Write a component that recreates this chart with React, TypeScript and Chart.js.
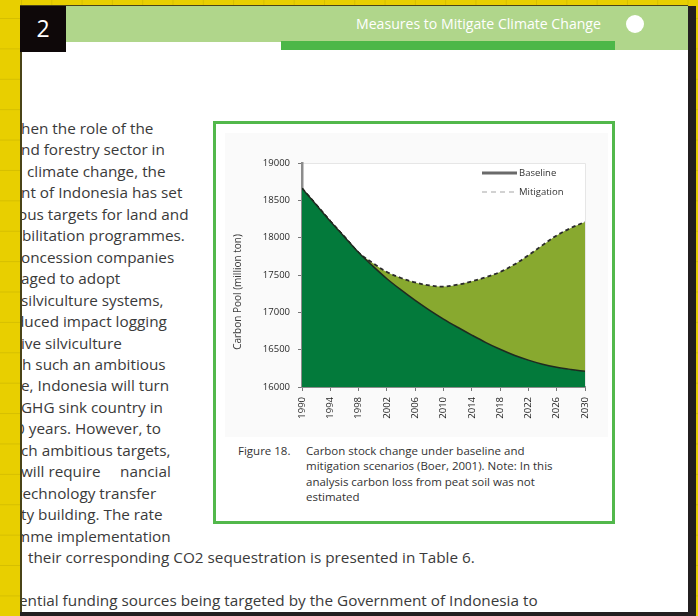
import React, { useEffect, useRef } from "react";
import { Chart, registerables } from "chart.js";

Chart.register(...registerables);

// ---------- data ----------
const years = [1990, 1992, 1994, 1996, 1998, 2000, 2002, 2004, 2006, 2008, 2010, 2012, 2014, 2016, 2018, 2020, 2022, 2024, 2026, 2028, 2030];
const baseline = [18660, 18440, 18220, 18010, 17800, 17620, 17450, 17300, 17160, 17030, 16910, 16800, 16695, 16595, 16505, 16425, 16360, 16305, 16265, 16235, 16210];
const mitigation = [18660, 18440, 18220, 18010, 17800, 17660, 17540, 17460, 17400, 17360, 17345, 17370, 17415, 17470, 17540, 17640, 17765, 17900, 18030, 18130, 18210];
const baselineTrace = [18660, 18440, 18220, 18010, 17790, 17600, 17420, 17250, 17090, 16950, 16830, 16715, 16605, 16505, 16420, 16350, 16295, 16255, 16230, 16208, 16195];
const xTickYears = [1990, 1994, 1998, 2002, 2006, 2010, 2014, 2018, 2022, 2026, 2030];
const yTickValues = [16000, 16500, 17000, 17500, 18000, 18500, 19000];
const legendLabels = ["Baseline", "Mitigation"];
const yAxisTitle = "Carbon Pool (million ton)";

const headerTitle = "Measures to Mitigate Climate Change";
const chapterNumber = "2";
const captionLabel = "Figure 18.";
const captionLines = [
  "Carbon stock change under baseline and",
  "mitigation scenarios (Boer, 2001).  Note: In this",
  "analysis carbon loss from peat soil was not",
  "estimated",
];
const bodyLines: { t: string; dx: number; row: number }[] = [
  { t: "hen the role of the", dx: -1, row: 0 },
  { t: "nd forestry sector in", dx: -1, row: 1 },
  { t: "climate change, the", dx: 5, row: 2 },
  { t: "nt of Indonesia has set", dx: -1, row: 3 },
  { t: "ous targets for land and", dx: -4, row: 4 },
  { t: "bilitation programmes.", dx: 0, row: 5 },
  { t: "oncession companies", dx: -1, row: 6 },
  { t: "aged to adopt", dx: -1, row: 7 },
  { t: "silviculture systems,", dx: -1, row: 8 },
  { t: "duced impact logging", dx: -7, row: 9 },
  { t: "ive silviculture", dx: -1, row: 10 },
  { t: "h such an ambitious", dx: 0, row: 11 },
  { t: "e, Indonesia will turn", dx: -1, row: 12 },
  { t: "GHG sink country in", dx: -1, row: 13 },
  { t: "0 years. However, to", dx: -6, row: 14 },
  { t: "ch ambitious targets,", dx: -1, row: 15 },
  { t: "will require", dx: -1, row: 16 },
  { t: "nancial", dx: 98, row: 16 },
  { t: "technology transfer", dx: -5, row: 17 },
  { t: "ty building. The rate", dx: -1, row: 18 },
  { t: "mme implementation", dx: -6, row: 19 },
  { t: "their corresponding CO2 sequestration is presented in Table 6.", dx: 6, row: 20 },
  { t: "ential funding sources being targeted by the Government of Indonesia to", dx: -3, row: 22 },
];

// ---------- layout constants ----------
const CANVAS_LEFT = 225;
const CANVAS_TOP = 133;
const CANVAS_W = 383;
const CANVAS_H = 304;
const TEXT_FONT = "'Open Sans', 'Noto Sans', sans-serif";
const CHART_FONT = "'Open Sans', 'Noto Sans', sans-serif";

const chartDecor = {
  id: "chartDecor",
  beforeDraw(chart: any) {
    const { ctx, chartArea: ca, width, height } = chart;
    ctx.save();
    ctx.fillStyle = "#fafafa";
    ctx.fillRect(0, 0, width, height);
    ctx.fillStyle = "#ffffff";
    ctx.fillRect(ca.left, ca.top, ca.right - ca.left, ca.bottom - ca.top);
    ctx.strokeStyle = "#e6e6e6";
    ctx.lineWidth = 1;
    ctx.beginPath();
    ctx.moveTo(ca.left, ca.top + 0.5);
    ctx.lineTo(ca.right + 0.5, ca.top + 0.5);
    ctx.lineTo(ca.right + 0.5, ca.bottom);
    ctx.stroke();
    ctx.restore();
  },
  afterDraw(chart: any) {
    const { ctx, chartArea: ca } = chart;
    ctx.save();
    // legend
    const lx = ca.left + 180;
    const tx = ca.left + 217;
    const y1 = ca.top + 10;
    const y2 = ca.top + 29;
    ctx.lineWidth = 3;
    ctx.strokeStyle = "#6a6a6a";
    ctx.beginPath();
    ctx.moveTo(lx, y1);
    ctx.lineTo(lx + 35, y1);
    ctx.stroke();
    ctx.lineWidth = 2;
    ctx.strokeStyle = "#d2d2d2";
    ctx.setLineDash([5, 4]);
    ctx.beginPath();
    ctx.moveTo(lx, y2);
    ctx.lineTo(lx + 35, y2);
    ctx.stroke();
    ctx.setLineDash([]);
    ctx.fillStyle = "#333";
    ctx.font = `9.5px ${CHART_FONT}`;
    ctx.textAlign = "left";
    ctx.textBaseline = "middle";
    ctx.fillText(legendLabels[0], tx, y1);
    ctx.fillText(legendLabels[1], tx, y2);
    // y axis title
    ctx.translate(13, 159);
    ctx.rotate(-Math.PI / 2);
    ctx.textAlign = "center";
    ctx.font = `10px ${CHART_FONT}`;
    ctx.fillStyle = "#3a3a3a";
    ctx.fillText(yAxisTitle, 0, 0);
    ctx.restore();
  },
};

function CarbonChart() {
  const ref = useRef<HTMLCanvasElement | null>(null);
  useEffect(() => {
    if (!ref.current) return;
    const chart = new Chart(ref.current, {
      type: "line",
      data: {
        datasets: [
          {
            label: legendLabels[0],
            data: years.map((x, i) => ({ x, y: baseline[i] })),
            borderColor: "#1f2a1f",
            borderWidth: 1.5,
            backgroundColor: "#037a3b",
            fill: "start",
            tension: 0.35,
            pointRadius: 0,
          },
          {
            label: legendLabels[1],
            data: years.map((x, i) => ({ x, y: mitigation[i] })),
            borderColor: "#2b2b2b",
            borderWidth: 1.8,
            borderDash: [4, 3],
            backgroundColor: "#88a92f",
            fill: 0,
            tension: 0.35,
            pointRadius: 0,
          },
          {
            label: "trace",
            data: years.map((x, i) => ({ x, y: baselineTrace[i] })),
            borderColor: "#111",
            borderWidth: 1.8,
            borderDash: [4, 3],
            fill: false,
            tension: 0.35,
            pointRadius: 0,
          },
        ],
      },
      options: {
        animation: false,
        responsive: false,
        devicePixelRatio: 1,
        layout: { padding: { top: 30, right: 23, left: 0, bottom: 0 } },
        plugins: { legend: { display: false }, tooltip: { enabled: false } },
        scales: {
          x: {
            type: "linear",
            min: 1990,
            max: 2030,
            afterBuildTicks: (s: any) => {
              s.ticks = xTickYears.map((v) => ({ value: v }));
            },
            afterFit: (s: any) => {
              s.height = 50;
            },
            ticks: {
              autoSkip: false,
              minRotation: 90,
              maxRotation: 90,
              padding: 6,
              color: "#1e1e1e",
              font: { family: CHART_FONT, size: 9.5 },
              callback: (v: any) => String(v),
            },
            grid: { display: true, drawOnChartArea: false, tickLength: 4, tickColor: "#777", color: "#777" },
            border: { display: true, color: "#8c8c8c", width: 2 },
          },
          y: {
            min: 16000,
            max: 19000,
            afterBuildTicks: (s: any) => {
              s.ticks = yTickValues.map((v) => ({ value: v }));
            },
            afterFit: (s: any) => {
              s.width = 77;
            },
            ticks: {
              padding: 8,
              color: "#2a2a2a",
              font: { family: CHART_FONT, size: 9.5 },
              callback: (v: any) => String(v),
            },
            grid: { display: true, drawOnChartArea: false, tickLength: 4, tickColor: "#777", color: "#777" },
            border: { display: true, color: "#8c8c8c", width: 2.5 },
          },
        },
      },
      plugins: [chartDecor],
    } as any);
    return () => chart.destroy();
  }, []);
  return (
    <canvas
      ref={ref}
      width={CANVAS_W}
      height={CANVAS_H}
      style={{ position: "absolute", left: CANVAS_LEFT, top: CANVAS_TOP, width: CANVAS_W, height: CANVAS_H }}
    />
  );
}

export default function App() {
  const abs = (s: React.CSSProperties): React.CSSProperties => ({ position: "absolute", ...s });
  const LINE_H = 21.45;
  const FIRST_CENTER = 128;
  return (
    <div
      style={abs({
        left: 0,
        top: 0,
        width: 698,
        height: 616,
        overflow: "hidden",
        background:
          "linear-gradient(#d6bf00 1px, transparent 1px) 0 18px / 30.4px 30.4px, linear-gradient(90deg, #d6bf00 1px, transparent 1px) 21px 0 / 30.3px 30.3px, #e8cf00",
        fontFamily: TEXT_FONT,
      })}
    >
      {/* page shadow */}
      <div style={abs({ left: 688, top: 6, width: 8, height: 610, background: "#231f20" })} />
      <div style={abs({ left: 20, top: 612, width: 676, height: 4, background: "#231f20" })} />
      {/* page edge */}
      <div style={abs({ left: 20, top: 5, width: 668, height: 607, background: "#4a4418" })} />
      <div style={abs({ left: 22, top: 6, width: 666, height: 606, background: "#ffffff" })} />

      {/* header */}
      <div style={abs({ left: 66, top: 6, width: 622, height: 36, background: "#b0d68b" })} />
      <div style={abs({ left: 615, top: 6, width: 73, height: 44, background: "#b0d68b" })} />
      <div style={abs({ left: 281, top: 41, width: 334, height: 9, background: "#4cb748" })} />
      <div
        style={abs({
          left: 20,
          top: 6,
          width: 46,
          height: 46,
          background: "#0e0809",
          color: "#fff",
          fontSize: 23,
          lineHeight: "44px",
          textAlign: "center",
        })}
      >
        {chapterNumber}
      </div>
      <div
        style={abs({
          left: 356,
          top: 12,
          height: 24,
          lineHeight: "24px",
          color: "#ffffff",
          fontSize: 14.1,
          whiteSpace: "nowrap",
        })}
      >
        {headerTitle}
      </div>
      <div style={abs({ left: 626, top: 15, width: 18, height: 18, borderRadius: 9, background: "#ffffff" })} />

      {/* body text, clipped at the left */}
      <div style={abs({ left: 22, top: 0, width: 666, height: 612, overflow: "hidden" })}>
        {bodyLines.map((l, i) => (
          <div
            key={i}
            style={abs({
              left: l.dx,
              top: FIRST_CENTER + l.row * LINE_H - 11,
              height: 22,
              lineHeight: "22px",
              fontSize: 15.3,
              color: "#3a3a3a",
              whiteSpace: "nowrap",
            })}
          >
            {l.t}
          </div>
        ))}
      </div>

      {/* figure box */}
      <div
        style={abs({
          left: 213,
          top: 121,
          width: 402,
          height: 403,
          boxSizing: "border-box",
          border: "3px solid #52b84b",
          background: "#ffffff",
        })}
      />
      <CarbonChart />
      <div
        style={abs({
          left: 238,
          top: 451 - 8,
          height: 16,
          lineHeight: "16px",
          fontSize: 11.5,
          color: "#333",
          whiteSpace: "nowrap",
        })}
      >
        {captionLabel}
      </div>
      {captionLines.map((t, i) => (
        <div
          key={i}
          style={abs({
            left: 306,
            top: 451 + i * 15.3 - 8,
            height: 16,
            lineHeight: "16px",
            fontSize: 11.5,
            color: "#333",
            whiteSpace: "nowrap",
          })}
        >
          {t}
        </div>
      ))}
    </div>
  );
}
